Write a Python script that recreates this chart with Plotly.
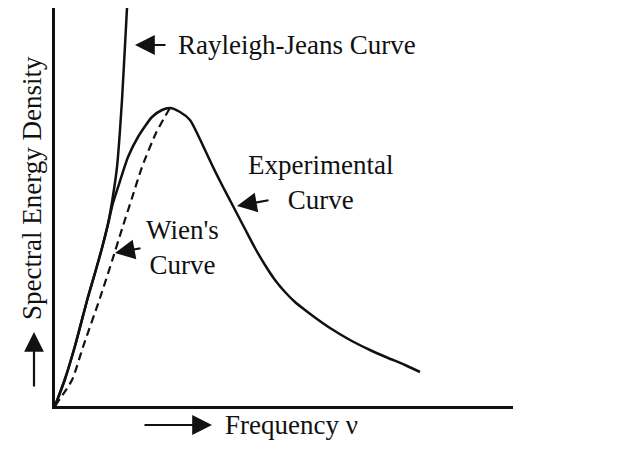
import plotly.graph_objects as go

# values (arbitrary units: frequency -> right, energy density -> up)
exp_freq = [0, 10, 20, 33, 40, 47, 53, 58, 65, 73, 83, 97, 107, 115, 125, 135, 142, 150, 158, 167, 178, 190,
            200, 210, 220, 230, 240, 250, 262, 275, 295, 315, 332, 350, 365]
exp_dens = [0, 27, 60, 109, 133, 158, 182, 203, 225, 249, 269, 289, 296, 298, 294, 286, 273, 256, 239, 221, 200,
            177, 158, 141, 126, 114, 104, 96, 87, 78, 66, 56, 48.5, 41, 34]

wien_freq = [0, 17, 28, 45, 57, 67, 77, 87, 101, 112, 115]
wien_dens = [0, 26, 59, 108, 145, 177, 208, 239, 273, 293, 298]

rj_freq = [0, 10, 20, 33, 40, 47, 53, 57, 62, 67, 72, 74]
rj_dens = [0, 27, 60, 109, 133, 158, 182, 204, 239, 306, 398, 430]

X_RANGE = [0, 458]
Y_RANGE = [0, 398]

FONT = "Liberation Serif"
INK = "#111111"

fig = go.Figure()
fig.add_trace(go.Scatter(x=rj_freq, y=rj_dens, mode="lines",
                         line=dict(color=INK, width=2.5, shape="spline", smoothing=0.6), showlegend=False))
fig.add_trace(go.Scatter(x=exp_freq, y=exp_dens, mode="lines",
                         line=dict(color=INK, width=2.5, shape="spline", smoothing=0.6), showlegend=False))
fig.add_trace(go.Scatter(x=wien_freq, y=wien_dens, mode="lines",
                         line=dict(color=INK, width=2.2, dash="8px,5px", shape="spline", smoothing=0.6),
                         showlegend=False))


def paper(x, y):
    # annotations outside the axes ranges get hidden, so place everything in paper units
    return ((x - X_RANGE[0]) / (X_RANGE[1] - X_RANGE[0]), (y - Y_RANGE[0]) / (Y_RANGE[1] - Y_RANGE[0]))


def arrow(x, y, ax, ay):
    px, py = paper(x, y)
    fig.add_annotation(x=px, y=py, xref="paper", yref="paper", ax=ax, ay=ay, text="", showarrow=True,
                       arrowhead=2, arrowsize=1.8, arrowwidth=2.2, arrowcolor=INK, standoff=0)


def label(x, y, text, angle=0):
    px, py = paper(x, y)
    fig.add_annotation(x=px, y=py, xref="paper", yref="paper", text=text, showarrow=False, textangle=angle,
                       xanchor="center", yanchor="middle", font=dict(family=FONT, size=27, color=INK))


arrow(80, 361, 32, 0)
label(242, 361, "Rayleigh-Jeans Curve")
arrow(182, 200, 33, -6)
label(265, 223, "Experimental<br>Curve")
arrow(60, 153, 27, -5)
label(127, 159, "Wien's<br>Curve")
arrow(157, -19, -69, 0)
label(236, -19, "Frequency ν")
arrow(-21, 74, 0, 56)
label(-23, 218, "Spectral Energy Density", angle=-90)

fig.update_xaxes(range=X_RANGE, showline=True, linecolor=INK, linewidth=2.5, showgrid=False, zeroline=False,
                 showticklabels=False, ticks="")
fig.update_yaxes(range=Y_RANGE, showline=True, linecolor=INK, linewidth=2.5, showgrid=False, zeroline=False,
                 showticklabels=False, ticks="")
# the page body adds 8px around the figure, so margins are trimmed by that much
fig.update_layout(width=640, height=450, margin=dict(l=47, r=135, t=0, b=52, autoexpand=False),
                  plot_bgcolor="white", paper_bgcolor="white", font=dict(family=FONT, color=INK))

fig.write_html("out.html")
